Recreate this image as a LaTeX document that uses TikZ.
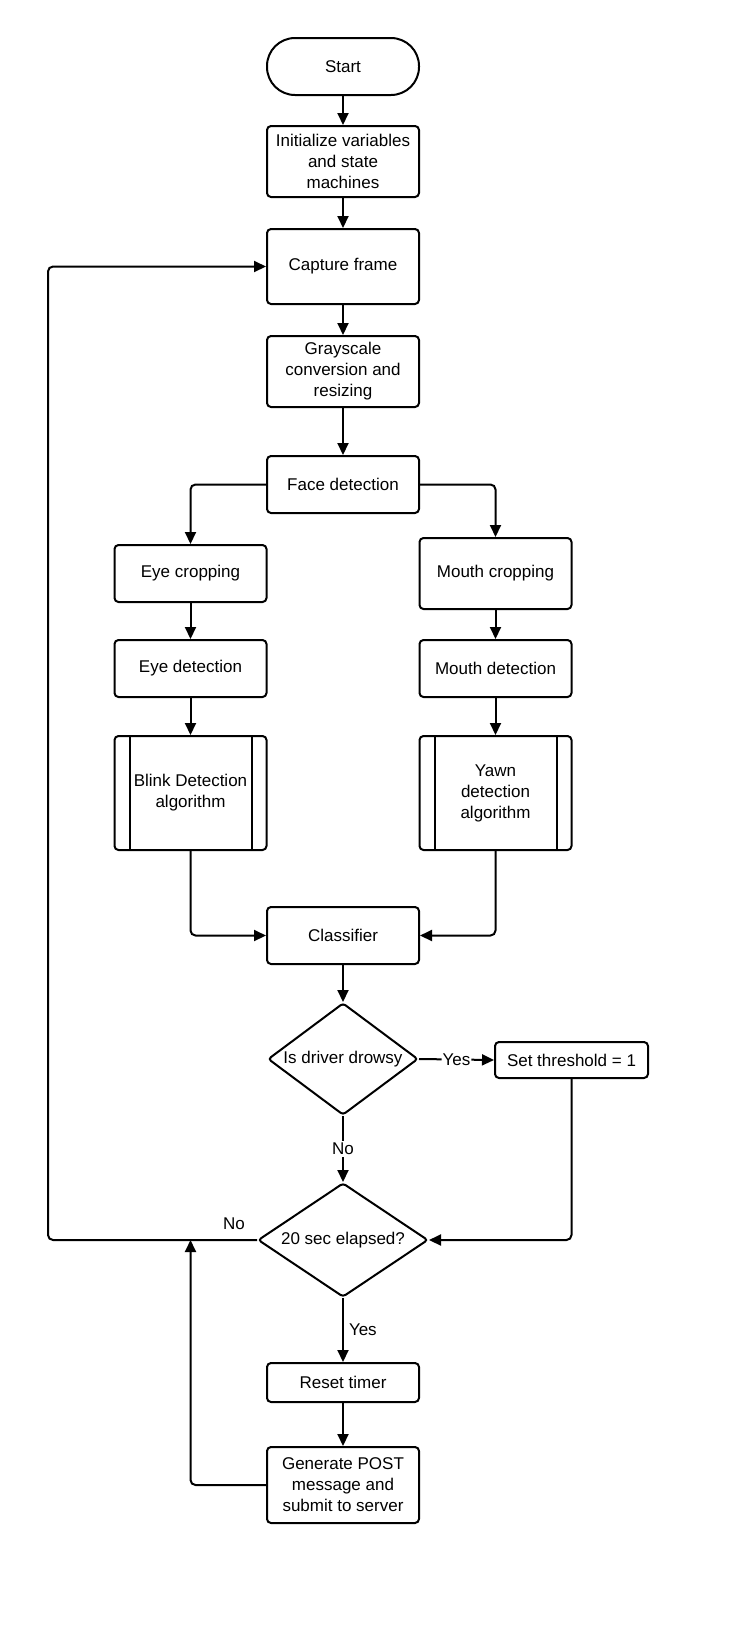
\documentclass[tikz,border=0pt]{standalone}
\usepackage{fontspec}
\setmainfont{Liberation Sans}
\usetikzlibrary{shapes.geometric,arrows.meta,calc}
\begin{document}
\begin{tikzpicture}[x=1pt,y=-1pt,
  every node/.style={font=\fontsize{17}{21}\selectfont, align=center},
  box/.style={draw, line width=2pt, rounded corners=4pt, minimum width=152pt, inner sep=0pt},
  sub/.style={box, minimum height=114pt,
    append after command={
      \pgfextra{\let\subnode\tikzlastnode}
      ([xshift=16pt]\subnode.north west) edge[line width=2pt,-] ([xshift=16pt]\subnode.south west)
      ([xshift=-16pt]\subnode.north east) edge[line width=2pt,-] ([xshift=-16pt]\subnode.south east)
    }},
  dia/.style={draw, diamond, line width=2pt, inner sep=0pt, rounded corners=3pt},
  line/.style={line width=2pt, rounded corners=5pt},
  arr/.style={line, -{Triangle[length=12pt,width=11pt]}},
  lbl/.style={inner sep=2pt}
]
\useasboundingbox (0,0) rectangle (736,1647);

\node[box, rounded corners=28pt, minimum height=57pt] (start) at (343,66.5) {Start};
\node[box, minimum height=71pt] (init) at (343,161.5) {Initialize variables\\and state\\machines};
\node[box, minimum height=75pt] (cap) at (343,266.5) {Capture frame};
\node[box, minimum height=71pt] (gray) at (343,371.5) {Grayscale\\conversion and\\resizing};
\node[box, minimum height=57pt] (face) at (343,484.5) {Face detection};
\node[box, minimum height=57pt] (eyec) at (190.5,573.5) {Eye cropping};
\node[box, minimum height=71pt] (mouthc) at (495.5,573.5) {Mouth cropping};
\node[box, minimum height=57pt] (eyed) at (190.5,668.5) {Eye detection};
\node[box, minimum height=57pt] (mouthd) at (495.5,668.5) {Mouth detection};
\node[sub] (blink) at (190.5,793) {Blink Detection\\algorithm};
\node[sub] (yawn) at (495.5,793) {Yawn\\detection\\algorithm};
\node[box, minimum height=57pt] (cls) at (343,935.5) {Classifier};
\node[dia, minimum width=150pt, minimum height=112pt] (drowsy) at (343,1059) {\makebox[0pt]{Is driver drowsy}};
\node[box, minimum width=153pt, minimum height=36pt] (thr) at (571.5,1060) {Set threshold = 1};
\node[dia, minimum width=170pt, minimum height=114pt] (elapsed) at (343,1240) {\makebox[0pt]{20 sec elapsed?}};
\node[box, minimum height=39pt] (reset) at (343,1382.5) {Reset timer};
\node[box, minimum height=76pt] (post) at (343,1485) {Generate POST\\message and\\submit to server};

\draw[arr] (start) -- (init);
\draw[arr] (init) -- (cap);
\draw[arr] (cap) -- (gray);
\draw[arr] (gray) -- (face);
\draw[arr] (face.west) -| (eyec.north);
\draw[arr] (face.east) -| (mouthc.north);
\draw[arr] (eyec) -- (eyed);
\draw[arr] (mouthc) -- (mouthd);
\draw[arr] (eyed) -- (blink);
\draw[arr] (mouthd) -- (yawn);
\draw[arr] (blink.south) |- (cls.west);
\draw[arr] (yawn.south) |- (cls.east);
\draw[arr] (cls) -- (drowsy);
\draw[arr] (drowsy.east) -- node[lbl, fill=white, inner sep=1pt] (yes1) {Yes} (thr.west);
\draw[arr] (drowsy.south) -- node[lbl, fill=white] (no1) {No} (elapsed.north);
\draw[arr] (thr.south) |- (elapsed.east);
\coordinate (lp) at (48,1240);
\draw[arr] (elapsed.west) -- (lp) |- (cap.west);
\node[lbl] (no2) at (234,1224) {No};
\draw[arr] (elapsed.south) -- node[lbl, right, inner sep=5pt] (yes2) {Yes} (reset.north);
\draw[arr] (reset) -- (post);
\coordinate (mj) at (190.5,1240);
\draw[arr] (post.west) -| (mj);
\end{tikzpicture}
\end{document}
